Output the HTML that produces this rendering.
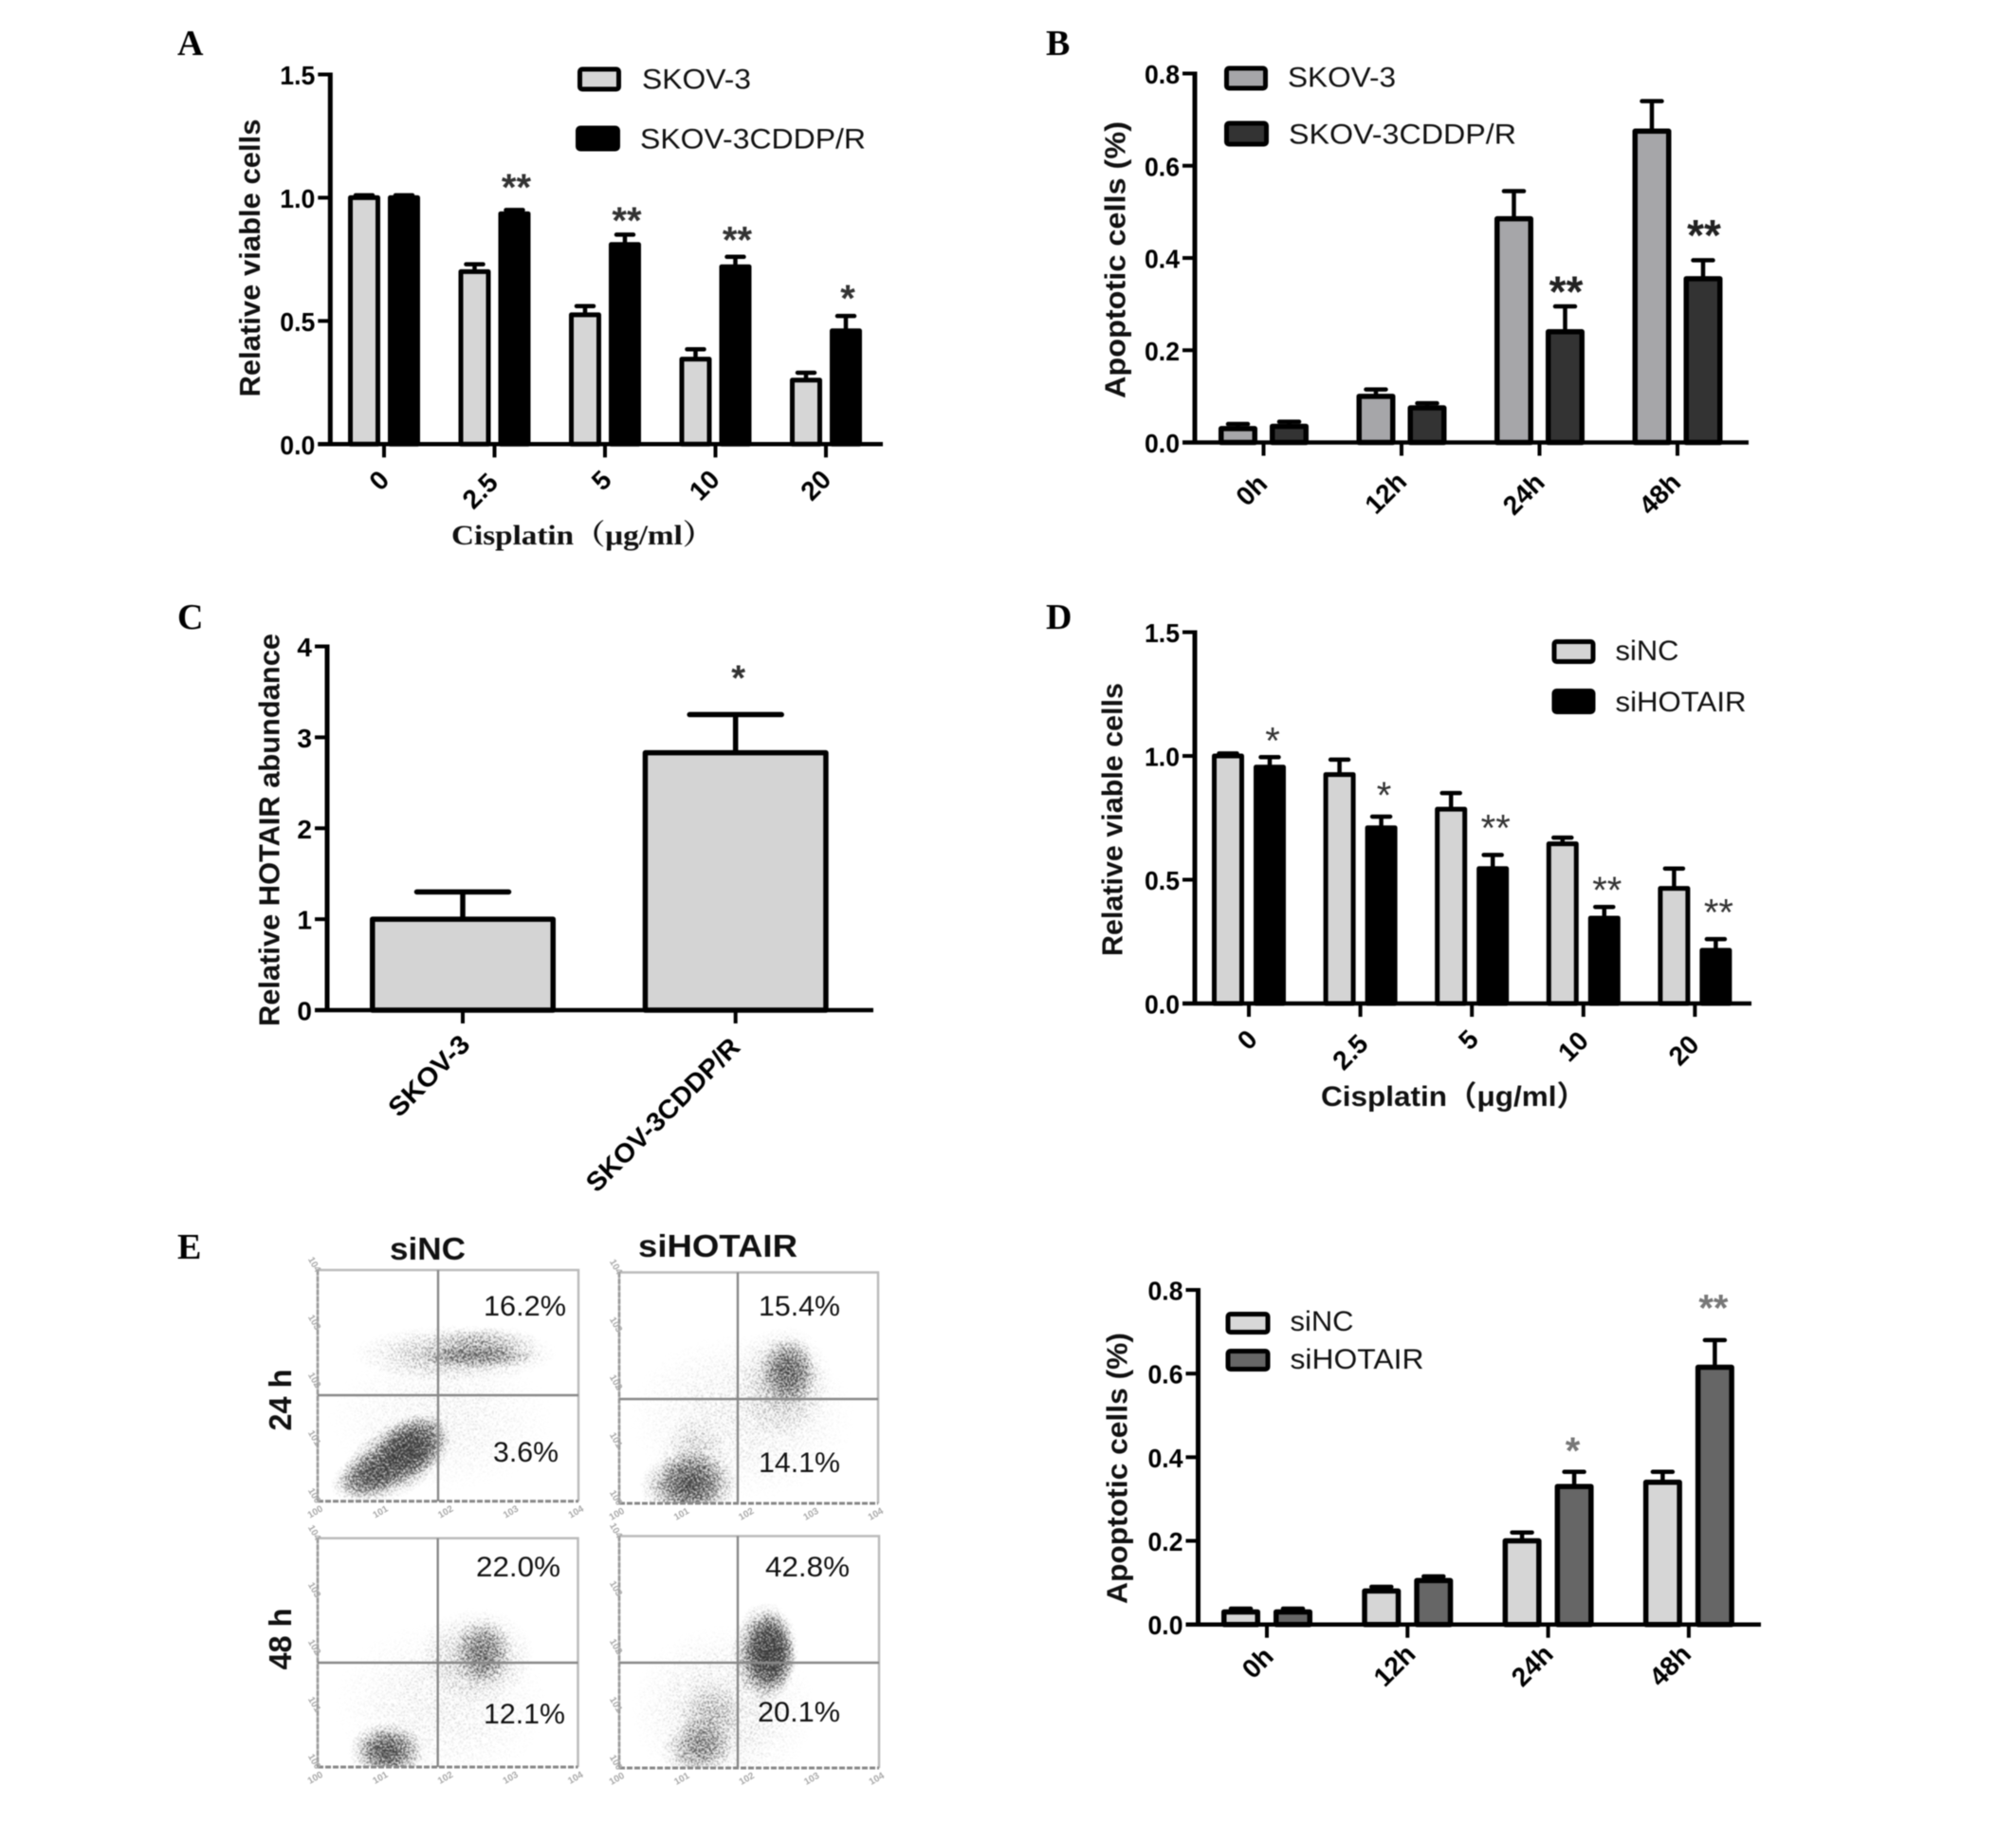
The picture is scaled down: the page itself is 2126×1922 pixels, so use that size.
<!DOCTYPE html>
<html lang="en">
<head>
<meta charset="utf-8">
<title>HOTAIR and cisplatin resistance figure</title>
<style>
html,body{margin:0;padding:0;background:#fff;}
svg{display:block;filter:blur(.55px);}
text{font-family:"Liberation Sans","Noto Sans CJK SC",sans-serif;}
.panel-letter{font-family:"Liberation Serif",serif;font-weight:bold;font-size:38px;fill:#000;}
</style>
</head>
<body>
<svg id="figure" xmlns="http://www.w3.org/2000/svg" width="2126" height="1922" viewBox="0 0 2126 1922">
  <defs>
    <radialGradient id="blob">
      <stop offset="0" stop-color="#000" stop-opacity="1"/>
      <stop offset=".45" stop-color="#000" stop-opacity=".7"/>
      <stop offset="1" stop-color="#000" stop-opacity="0"/>
    </radialGradient>
    <filter id="grain" x="0" y="0" width="1" height="1" color-interpolation-filters="sRGB">
      <feTurbulence type="fractalNoise" baseFrequency=".62" numOctaves="2" seed="7" result="n"/>
      <feColorMatrix in="n" type="matrix" values="0 0 0 0 0  0 0 0 0 0  0 0 0 0 0  2.6 0 0 0 -.66" result="m"/>
      <feComposite in="SourceGraphic" in2="m" operator="arithmetic" k1="0" k2="1.9" k3="1.9" k4="-1.9" result="d"/>
      <feGaussianBlur in="d" stdDeviation=".6"/>
    </filter>
  </defs>
  <rect width="2126" height="1922" fill="#fff"/>
  <text class="panel-letter" x="187" y="58">A</text>
  <text class="panel-letter" x="1103" y="58">B</text>
  <text class="panel-letter" x="187" y="663">C</text>
  <text class="panel-letter" x="1103" y="663">D</text>
  <text class="panel-letter" x="187" y="1327">E</text>
  <g id="panel-a"></g>
  <g id="panel-b"></g>
  <g id="panel-c"></g>
  <g id="panel-d"></g>
  <g id="panel-e-flow"></g>
  <g id="panel-e-bars"></g>
</svg>
<script>
// ---- Panel A data ----
const aCategories = ['0', '2.5', '5', '10', '20'];
const aYTicks = ['0.0', '0.5', '1.0', '1.5'];
const aSkovValues = [1.0, 0.70, 0.525, 0.345, 0.26];
const aSkovErrorTops = [1.01, 0.73, 0.56, 0.385, 0.29];
const aCddpValues = [1.0, 0.935, 0.81, 0.72, 0.46];
const aCddpErrorTops = [1.01, 0.95, 0.85, 0.76, 0.52];
const aStarMarks = ['', '**', '**', '**', '*'];
const aStarLevels = [0, 1.06, 0.925, 0.846, 0.61];

// ---- Panel B data ----
const bCategories = ['0h', '12h', '24h', '48h'];
const bYTicks = ['0.0', '0.2', '0.4', '0.6', '0.8'];
const bSkovValues = [0.03, 0.10, 0.485, 0.675];
const bSkovErrorTops = [0.04, 0.115, 0.545, 0.74];
const bCddpValues = [0.035, 0.075, 0.24, 0.355];
const bCddpErrorTops = [0.045, 0.085, 0.295, 0.395];
const bStarMarks = ['', '', '**', '**'];
const bStarLevels = [0, 0, 0.337, 0.459];

// ---- Panel C data ----
const cCategories = ['SKOV-3', 'SKOV-3CDDP/R'];
const cYTicks = ['0', '1', '2', '3', '4'];
const cValues = [1.0, 2.83];
const cErrorTops = [1.3, 3.25];
const cStarMarks = ['', '*'];
const cStarLevels = [0, 3.7];

// ---- Panel D data ----
const dCategories = ['0', '2.5', '5', '10', '20'];
const dYTicks = ['0.0', '0.5', '1.0', '1.5'];
const dNcValues = [1.0, 0.925, 0.785, 0.645, 0.465];
const dNcErrorTops = [1.01, 0.985, 0.85, 0.67, 0.545];
const dHotairValues = [0.955, 0.71, 0.545, 0.345, 0.215];
const dHotairErrorTops = [0.995, 0.755, 0.60, 0.39, 0.26];
const dStarMarks = ['*', '*', '**', '**', '**'];
const dStarLevels = [1.078, 0.858, 0.726, 0.475, 0.385];

// ---- Panel E bar chart data ----
const fCategories = ['0h', '12h', '24h', '48h'];
const fYTicks = ['0.0', '0.2', '0.4', '0.6', '0.8'];
const fNcValues = [0.03, 0.08, 0.20, 0.34];
const fNcErrorTops = [0.038, 0.09, 0.22, 0.365];
const fHotairValues = [0.03, 0.105, 0.33, 0.615];
const fHotairErrorTops = [0.038, 0.115, 0.365, 0.68];
const fStarMarks = ['', '', '*', '**'];
const fStarLevels = [0, 0, 0.4255, 0.767];

// ---- Panel E flow cytometry data: density clusters in log decades
// each cluster = [annexin decade, PI decade, spread x, spread y, tilt deg, density]
const flowDecades = [0, 1, 2, 3, 4];
const flow24hNc = [[1.9, 1.4, 1.8, 1.3, 0, 0.14], [2.1, 2.55, 1.6, 0.5, 0, 0.42], [2.5, 2.5, 1.0, 0.2, 0, 0.45], [2.55, 2.75, 0.9, 0.3, 0, 0.3], [1.2, 0.72, 1.0, 0.62, -32, 0.9], [0.75, 0.42, 0.6, 0.4, -20, 0.65], [1.45, 0.95, 0.6, 0.5, -35, 0.8]];
const flow24hHotair = [[1.9, 1.5, 1.8, 1.5, 0, 0.18], [2.55, 2.1, 0.75, 1.0, 0, 0.35], [2.62, 2.3, 0.45, 0.62, 0, 0.7], [1.08, 0.3, 0.78, 0.62, 0, 0.85], [1.15, 0.7, 0.55, 0.85, 0, 0.3]];
const flow48hNc = [[1.9, 1.1, 1.7, 1.5, 0, 0.16], [2.45, 1.95, 0.9, 0.85, 0, 0.35], [2.55, 2.02, 0.45, 0.62, 0, 0.55], [1.07, 0.27, 0.6, 0.52, 0, 0.88]];
const flow48hHotair = [[1.6, 1.0, 1.45, 1.5, 0, 0.22], [2.25, 2.0, 0.52, 0.88, 0, 0.95], [2.35, 2.0, 0.38, 0.7, 0, 0.88], [1.2, 0.3, 0.56, 0.52, 0, 0.52], [1.4, 0.8, 0.52, 0.72, 0, 0.35]];
const flow24hNcPercents = ['16.2%', '3.6%'];
const flow24hHotairPercents = ['15.4%', '14.1%'];
const flow48hNcPercents = ['22.0%', '12.1%'];
const flow48hHotairPercents = ['42.8%', '20.1%'];

const NS = 'http://www.w3.org/2000/svg';

function make(parent, tag, attrs) {
  const el = document.createElementNS(NS, tag);
  for (const k in attrs) el.setAttribute(k, attrs[k]);
  parent.appendChild(el);
  return el;
}

function label(parent, str, x, y, size, o) {
  o = o || {};
  const a = {x: x, y: y, 'font-size': size, fill: o.fill || '#000'};
  if (o.bold) a['font-weight'] = 'bold';
  a['text-anchor'] = o.anchor || 'start';
  if (o.family) a.style = 'font-family:' + o.family;
  if (o.len) { a.textLength = o.len; a.lengthAdjust = 'spacingAndGlyphs'; }
  if (o.rotate !== undefined) a.transform = 'rotate(' + o.rotate + ' ' + x + ' ' + y + ')';
  const el = make(parent, 'text', a);
  el.textContent = str;
  return el;
}

function legendEntry(parent, x, y, w, h, fill, str, tx, base, len, size) {
  const swatch = make(parent, 'rect', {x: x + 2.5, y: y + 2.5, width: w - 5, height: h - 5, rx: 2.5, fill: fill, stroke: '#000', 'stroke-width': 5});
  
  
  const t = label(parent, str, tx, base, size || 30, {len: len, fill: '#111'});
  
  
}

function barChart(cfg) {
  const g = document.getElementById(cfg.id);
  const yScale = v => cfg.y0 - v / cfg.yMax * (cfg.y0 - cfg.yTop);
  const xScale = i => cfg.tick0 + i * cfg.tickStep;
  const s = cfg.stroke;

  cfg.series.forEach(function (ser) {
    ser.values.forEach(function (v, i) {
      const cx = xScale(i) + ser.offset;
      const errLine = make(g, 'line', {x1: cx, x2: cx, y1: yScale(v), y2: yScale(ser.tops[i]), stroke: '#000', 'stroke-width': cfg.errW});
      
      
      const cap = make(g, 'line', {x1: cx - cfg.capW / 2, x2: cx + cfg.capW / 2, y1: yScale(ser.tops[i]), y2: yScale(ser.tops[i]), stroke: '#000', 'stroke-width': cfg.errW, 'stroke-linecap': 'round'});
      
      
      const bar = make(g, 'rect', {x: cx - cfg.barW / 2 + s / 2, y: yScale(v), width: cfg.barW - s, height: cfg.y0 - yScale(v), fill: ser.fill, stroke: '#000', 'stroke-width': s, 'stroke-linejoin': 'round'});
      
      
    });
  });

  const yAxis = make(g, 'line', {x1: cfg.x0, x2: cfg.x0, y1: cfg.yTop - 2, y2: cfg.y0 + 2, stroke: '#000', 'stroke-width': 5});
  
  
  const xAxis = make(g, 'line', {x1: cfg.x0 - 13, x2: cfg.xEnd, y1: cfg.y0, y2: cfg.y0, stroke: '#000', 'stroke-width': 4.5});
  
  

  cfg.yTicks.forEach(function (t) {
    const py = yScale(parseFloat(t));
    const tick = make(g, 'line', {x1: cfg.x0 - 13, x2: cfg.x0, y1: py, y2: py, stroke: '#000', 'stroke-width': 4});
    
    
    const tl = label(g, t, cfg.x0 - 16, py + 10.5, 28, {bold: true, anchor: 'end', len: t.length > 1 ? 37 : undefined});
    
    
  });

  cfg.categories.forEach(function (c, i) {
    const px = xScale(i);
    const tick = make(g, 'line', {x1: px, x2: px, y1: cfg.y0, y2: cfg.y0 + 14, stroke: '#000', 'stroke-width': 4});
    
    
    const pos = cfg.catPos[i];
    const tl = label(g, c, px + pos[0], cfg.y0 + pos[1], 28, {bold: true, anchor: 'middle', rotate: -45, len: pos[2]});
    
    
  });

  cfg.starMarks.forEach(function (m, i) {
    if (!m) return;
    const st = label(g, m, xScale(i) + cfg.starDx, yScale(cfg.starLevels[i]) + 0.45 * cfg.starSize, cfg.starSize, {anchor: 'middle', fill: cfg.starFill, bold: cfg.starBold});
    
    
  });

  const yt = label(g, cfg.yTitle, cfg.yTitleX, cfg.yTitleY, 31, {bold: true, anchor: 'middle', rotate: -90, len: cfg.yTitleLen, fill: '#111'});
  
  
  return g;
}

// Panel A
const gA = barChart({
  id: 'panel-a', x0: 348.3, xEnd: 931, yTop: 78.5, y0: 468.3, yMax: 1.5, tick0: 405, tickStep: 116.5,
  barW: 34, capW: 18, errW: 4.5, stroke: 5, yTicks: aYTicks, categories: aCategories,
  series: [{values: aSkovValues, tops: aSkovErrorTops, fill: '#d6d6d6', offset: -21}, {values: aCddpValues, tops: aCddpErrorTops, fill: '#000', offset: 21}],
  catPos: [[1.5, 45], [-8.5, 56], [3, 45], [-5, 50], [-4, 50]],
  starMarks: aStarMarks, starLevels: aStarLevels, starSize: 40, starDx: 23, starFill: '#333', starBold: true,
  yTitle: 'Relative viable cells', yTitleX: 274, yTitleY: 272, yTitleLen: 293
});
legendEntry(gA, 609, 70.5, 46, 26, '#d6d6d6', 'SKOV-3', 677, 93.5, 115);
legendEntry(gA, 607, 132.5, 47, 27, '#000', 'SKOV-3CDDP/R', 675, 156.5, 238);
const xtA = label(gA, 'Cisplatin（μg/ml）', 476, 574, 30, {bold: true, family: '"Liberation Serif","Noto Serif CJK SC",serif', len: 277, fill: '#111'});



// Panel B
const gB = barChart({
  id: 'panel-b', x0: 1260, xEnd: 1844, yTop: 77.5, y0: 466.5, yMax: 0.8, tick0: 1332.5, tickStep: 145.5,
  barW: 41, capW: 21, errW: 4.5, stroke: 5.5, yTicks: bYTicks, categories: bCategories,
  series: [{values: bSkovValues, tops: bSkovErrorTops, fill: '#a6a6a9', offset: -27}, {values: bCddpValues, tops: bCddpErrorTops, fill: '#333', offset: 27}],
  catPos: [[-6, 57], [-10, 60], [-10, 61], [-12, 61]],
  starMarks: bStarMarks, starLevels: bStarLevels, starSize: 46, starDx: 28, starFill: '#222', starBold: true,
  yTitle: 'Apoptotic cells (%)', yTitleX: 1186.5, yTitleY: 274, yTitleLen: 292
});
legendEntry(gB, 1291, 69.5, 46, 26, '#a6a6a9', 'SKOV-3', 1358, 91.5, 114);
legendEntry(gB, 1291, 127.5, 47, 27, '#333', 'SKOV-3CDDP/R', 1359, 151.5, 240);

// Panel C
const gC = barChart({
  id: 'panel-c', x0: 345, xEnd: 921, yTop: 681.5, y0: 1065, yMax: 4, tick0: 488, tickStep: 287.7,
  barW: 196, capW: 97, errW: 5.5, stroke: 5.5, yTicks: cYTicks, categories: [],
  series: [{values: cValues, tops: cErrorTops, fill: '#d4d4d4', offset: 0}],
  catPos: [],
  starMarks: cStarMarks, starLevels: cStarLevels, starSize: 38, starDx: 3, starFill: '#333', starBold: true,
  yTitle: 'Relative HOTAIR abundance', yTitleX: 294.5, yTitleY: 875, yTitleLen: 414
});
cCategories.forEach(function (c, i) {
  const tick = make(gC, 'line', {x1: 488 + i * 287.7, x2: 488 + i * 287.7, y1: 1065, y2: 1079, stroke: '#000', 'stroke-width': 4});
  
  
  const lx = 488 + i * 287.7 + (i === 0 ? -29 : -70);
  const ly = i === 0 ? 1141 : 1182;
  const tl = label(gC, c, lx, ly, 28, {bold: true, anchor: 'middle', rotate: -45, len: i === 0 ? 108 : 216});
  
  
});

// Panel D
const gD = barChart({
  id: 'panel-d', x0: 1260, xEnd: 1847, yTop: 666.5, y0: 1058, yMax: 1.5, tick0: 1317, tickStep: 117.6,
  barW: 34, capW: 19, errW: 4.5, stroke: 5, yTicks: dYTicks, categories: dCategories,
  series: [{values: dNcValues, tops: dNcErrorTops, fill: '#d4d4d4', offset: -22}, {values: dHotairValues, tops: dHotairErrorTops, fill: '#000', offset: 22}],
  catPos: [[5, 45], [-4, 58], [3, 45], [-4, 52], [-5, 56]],
  starMarks: dStarMarks, starLevels: dStarLevels, starSize: 40, starDx: 25, starFill: '#333', starBold: false,
  yTitle: 'Relative viable cells', yTitleX: 1183.5, yTitleY: 864, yTitleLen: 288
});
legendEntry(gD, 1636.5, 674, 46, 26, '#d4d4d4', 'siNC', 1703.5, 696, 67);
legendEntry(gD, 1636.5, 726, 46, 27, '#000', 'siHOTAIR', 1703.5, 750, 138);
const xtD = label(gD, 'Cisplatin（μg/ml）', 1393, 1166, 30, {bold: true, len: 280, fill: '#111'});



// Panel E bars
const gF = barChart({
  id: 'panel-e-bars', x0: 1263.5, xEnd: 1857, yTop: 1360, y0: 1712.7, yMax: 0.8, tick0: 1336, tickStep: 148.3,
  barW: 41, capW: 21, errW: 4.5, stroke: 5.5, yTicks: fYTicks, categories: fCategories,
  series: [{values: fNcValues, tops: fNcErrorTops, fill: '#d6d6d6', offset: -27.5}, {values: fHotairValues, tops: fHotairErrorTops, fill: '#666', offset: 27.5}],
  catPos: [[-3, 47], [-7, 50], [-10, 50], [-13, 50]],
  starMarks: fStarMarks, starLevels: fStarLevels, starSize: 40, starDx: 26, starFill: '#777', starBold: true,
  yTitle: 'Apoptotic cells (%)', yTitleX: 1188.5, yTitleY: 1548, yTitleLen: 286
});
legendEntry(gF, 1292.5, 1383, 47, 24, '#d8d8d8', 'siNC', 1360.5, 1403, 67);
legendEntry(gF, 1292.5, 1422, 47, 24, '#666', 'siHOTAIR', 1360.5, 1443, 141);

// Flow cytometry quadrants
function flowPlot(box, crossX, crossY, clusters, percents, spots) {
  const root = document.getElementById('panel-e-flow');
  const g = make(root, 'g', {});
  
  
  const xs = d => box.l + d / 4 * (box.r - box.l);
  const ys = d => box.b - d / 4 * (box.b - box.t);
  const wrap = make(g, 'g', {opacity: 0.8});
  const dots = make(wrap, 'g', {filter: 'url(#grain)'});
  
  
  make(dots, 'rect', {x: box.l, y: box.t, width: box.r - box.l, height: box.b - box.t, fill: '#fff', 'fill-opacity': 0});
  const clipId = 'clip' + root.children.length;
  const clip = make(g, 'clipPath', {id: clipId});
  make(clip, 'rect', {x: box.l, y: box.t, width: box.r - box.l, height: box.b - box.t});
  dots.setAttribute('clip-path', 'url(#' + clipId + ')');
  clusters.forEach(function (c) {
    const cx = xs(c[0]);
    const cy = ys(c[1]);
    const rx = xs(c[2]) - xs(0);
    const ry = ys(0) - ys(c[3]);
    const e = make(dots, 'ellipse', {cx: cx, cy: cy, rx: rx, ry: ry, fill: 'url(#blob)', opacity: c[5], transform: 'rotate(' + c[4] + ' ' + cx + ' ' + cy + ')'});
    
    
  });
  const frame = make(g, 'path', {d: 'M' + box.l + ' ' + box.b + 'V' + box.t + 'H' + box.r + 'V' + box.b, fill: 'none', stroke: '#bbb', 'stroke-width': 2.5});
  
  
  const leftEdge = make(g, 'line', {x1: box.l, x2: box.l, y1: box.t, y2: box.b, stroke: '#999', 'stroke-width': 2.5, 'stroke-dasharray': '5 2'});
  
  
  const bottomEdge = make(g, 'line', {x1: box.l, x2: box.r, y1: box.b, y2: box.b, stroke: '#888', 'stroke-width': 3, 'stroke-dasharray': '6 2'});
  
  
  const vLine = make(g, 'line', {x1: crossX, x2: crossX, y1: box.t, y2: box.b, stroke: '#888', 'stroke-width': 2.4});
  
  
  const hLine = make(g, 'line', {x1: box.l, x2: box.r, y1: crossY, y2: crossY, stroke: '#888', 'stroke-width': 2.4});
  
  
  flowDecades.forEach(function (d) {
    const xl = label(g, '10' + d, xs(d) - 1, box.b + 14, 10, {fill: '#aaa', anchor: 'middle', rotate: -30, bold: true});
    
    
    const yl = label(g, '10' + d, box.l - 2, ys(d) + 3, 10, {fill: '#aaa', anchor: 'end', rotate: 60, bold: true});
    
    
  });
  percents.forEach(function (p, i) {
    const t = label(g, p, spots[i][0], spots[i][1], 30, {len: spots[i][2], fill: '#111'});
    
    
  });
}
flowPlot({l: 335, r: 610, t: 1339, b: 1582.7}, 462, 1471, flow24hNc, flow24hNcPercents, [[510, 1387, 87], [520, 1541, 69]]);
flowPlot({l: 653, r: 926, t: 1341.5, b: 1585}, 778, 1475, flow24hHotair, flow24hHotairPercents, [[800, 1387, 86], [800, 1552, 86]]);
flowPlot({l: 335, r: 609.5, t: 1621.7, b: 1863}, 461.7, 1753, flow48hNc, flow48hNcPercents, [[502, 1662, 89], [510, 1817, 86]]);
flowPlot({l: 653, r: 927, t: 1619.5, b: 1864}, 778, 1753, flow48hHotair, flow48hHotairPercents, [[807, 1662, 89], [799, 1815, 87]]);

const flowRoot = document.getElementById('panel-e-flow');
const headNc = label(flowRoot, 'siNC', 411, 1328, 33, {bold: true, len: 80, fill: '#111'});


const headHot = label(flowRoot, 'siHOTAIR', 673, 1325, 33, {bold: true, len: 168, fill: '#111'});


const row24 = label(flowRoot, '24 h', 307, 1476, 33, {bold: true, anchor: 'middle', rotate: -90, len: 65, fill: '#111'});


const row48 = label(flowRoot, '48 h', 307, 1728, 33, {bold: true, anchor: 'middle', rotate: -90, len: 65, fill: '#111'});


</script>
</body>
</html>
